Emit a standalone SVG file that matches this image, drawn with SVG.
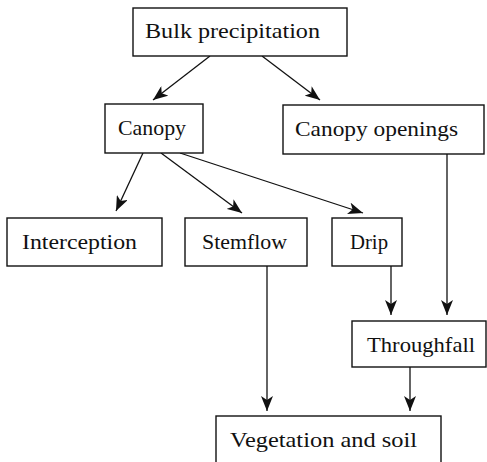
<svg xmlns="http://www.w3.org/2000/svg" width="487" height="462" viewBox="0 0 487 462">
  <style>
    .box { fill: #fff; stroke: #111; stroke-width: 1.4; }
    .lbl { font-family: "Liberation Serif", "DejaVu Serif", serif; font-size: 21px; fill: #111; }
    .edge { stroke: #111; stroke-width: 1.3; fill: none; marker-end: url(#arrow); }
  </style>
  <defs>
    <marker id="arrow" markerWidth="16" markerHeight="12" refX="15" refY="6" orient="auto" markerUnits="userSpaceOnUse">
      <path d="M0,0 L15,6 L0,12 L4,6 Z" fill="#111"/>
    </marker>
  </defs>

  <g id="connectors">
    <line class="edge" x1="210" y1="56" x2="153" y2="100"/>
    <line class="edge" x1="262" y1="56" x2="320" y2="100"/>
    <line class="edge" x1="143" y1="153" x2="116" y2="211"/>
    <line class="edge" x1="161" y1="153" x2="242" y2="213"/>
    <line class="edge" x1="180" y1="153" x2="363" y2="213"/>
    <line class="edge" x1="447" y1="154" x2="447" y2="315"/>
    <line class="edge" x1="391" y1="266" x2="391" y2="315"/>
    <line class="edge" x1="267" y1="266" x2="267" y2="411"/>
    <line class="edge" x1="410" y1="367" x2="410" y2="411"/>
  </g>

  <g id="bulk">
    <rect class="box" x="133" y="8" width="214" height="48"/>
    <text class="lbl" x="145" y="38" textLength="175" lengthAdjust="spacingAndGlyphs">Bulk precipitation</text>
  </g>
  <g id="canopy">
    <rect class="box" x="105" y="104" width="98" height="49"/>
    <text class="lbl" x="118" y="135" textLength="68" lengthAdjust="spacingAndGlyphs">Canopy</text>
  </g>
  <g id="openings">
    <rect class="box" x="283" y="105" width="201" height="49"/>
    <text class="lbl" x="295" y="136" textLength="163" lengthAdjust="spacingAndGlyphs">Canopy openings</text>
  </g>
  <g id="interception">
    <rect class="box" x="7" y="218" width="155" height="48"/>
    <text class="lbl" x="22" y="249" textLength="115" lengthAdjust="spacingAndGlyphs">Interception</text>
  </g>
  <g id="stemflow">
    <rect class="box" x="185" y="218" width="122" height="48"/>
    <text class="lbl" x="202" y="249" textLength="85" lengthAdjust="spacingAndGlyphs">Stemflow</text>
  </g>
  <g id="drip">
    <rect class="box" x="332" y="218" width="70" height="48"/>
    <text class="lbl" x="350" y="249" textLength="38" lengthAdjust="spacingAndGlyphs">Drip</text>
  </g>
  <g id="throughfall">
    <rect class="box" x="352" y="321" width="134" height="46"/>
    <text class="lbl" x="367" y="352" textLength="108" lengthAdjust="spacingAndGlyphs">Throughfall</text>
  </g>
  <g id="soil">
    <rect class="box" x="216" y="416" width="225" height="60"/>
    <text class="lbl" x="230" y="447" textLength="187" lengthAdjust="spacingAndGlyphs">Vegetation and soil</text>
  </g>
</svg>
